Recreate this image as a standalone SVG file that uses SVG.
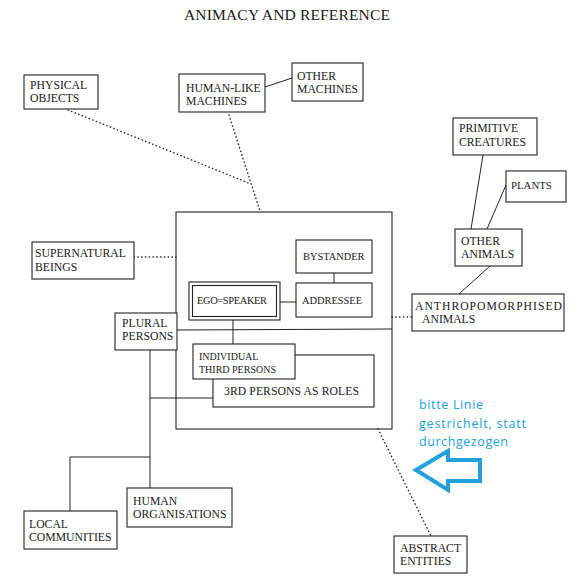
<svg xmlns="http://www.w3.org/2000/svg" width="581" height="577" viewBox="0 0 581 577">
<style>
.box{fill:#fff;stroke:#222;stroke-width:1.1}
.t{font-family:"Liberation Serif","Times New Roman",serif;font-size:11.7px;fill:#1a1a1a}
.s{font-size:10.4px}
.ln{stroke:#222;stroke-width:1;fill:none}
.dot{stroke:#222;stroke-width:1.4;fill:none;stroke-dasharray:0.4 3.4;stroke-linecap:round}
.note{font-family:"Open Sans","Noto Sans",sans-serif;font-size:12.5px;fill:#22a0dc}
</style>
<rect width="581" height="577" fill="#fff"/>
<text x="184" y="20" class="t" style="font-size:15.6px" textLength="206">ANIMACY AND REFERENCE</text>

<g id="container">
<rect x="176" y="212" width="216" height="217" class="box"/>
<line x1="176" y1="330" x2="392" y2="329" class="ln"/>
</g>

<g id="connectors">
<line x1="68" y1="110" x2="251" y2="184" class="dot"/>
<line x1="229" y1="115" x2="260" y2="211" class="dot"/>
<line x1="265" y1="87" x2="292" y2="78" class="ln"/>
<line x1="134" y1="257" x2="176" y2="257" class="dot"/>
<line x1="392" y1="317" x2="412" y2="317" class="dot"/>
<line x1="483" y1="155" x2="471" y2="229" class="ln"/>
<line x1="506" y1="185" x2="487" y2="229" class="ln"/>
<line x1="490" y1="266" x2="459" y2="294" class="ln"/>
<line x1="334" y1="273" x2="334" y2="283" class="ln"/>
<line x1="280" y1="302" x2="296" y2="302" class="ln"/>
<line x1="233" y1="320" x2="233" y2="344" class="ln"/>
<line x1="150" y1="350" x2="150" y2="488" class="ln"/>
<line x1="150" y1="398" x2="213" y2="398" class="ln"/>
<polyline points="150,457 70,457 70,511" class="ln"/>
<line x1="378" y1="429" x2="431" y2="536" class="dot"/>
</g>

<g id="physical-objects">
<rect x="24" y="75" width="74" height="34" class="box"/>
<text x="30" y="89" class="t">PHYSICAL</text>
<text x="30" y="102" class="t">OBJECTS</text>
</g>
<g id="human-like-machines">
<rect x="179" y="74" width="86" height="38" class="box"/>
<text x="186" y="92" class="t">HUMAN-LIKE</text>
<text x="186" y="105" class="t">MACHINES</text>
</g>
<g id="other-machines">
<rect x="292" y="63" width="71" height="38" class="box"/>
<text x="297" y="80" class="t">OTHER</text>
<text x="297" y="93" class="t">MACHINES</text>
</g>
<g id="primitive-creatures">
<rect x="453" y="118" width="84" height="37" class="box"/>
<text x="459" y="132" class="t">PRIMITIVE</text>
<text x="459" y="146" class="t">CREATURES</text>
</g>
<g id="plants">
<rect x="506" y="171" width="60" height="31" class="box"/>
<text x="511" y="189" class="t" style="font-size:10.8px">PLANTS</text>
</g>
<g id="other-animals">
<rect x="455" y="229" width="67" height="37" class="box"/>
<text x="461" y="245" class="t">OTHER</text>
<text x="461" y="258" class="t">ANIMALS</text>
</g>
<g id="anthropomorphised-animals">
<rect x="412" y="294" width="152" height="37" class="box"/>
<text x="415" y="310" class="t" textLength="147">ANTHROPOMORPHISED</text>
<text x="422" y="323" class="t">ANIMALS</text>
</g>
<g id="supernatural-beings">
<rect x="32" y="242" width="102" height="37" class="box"/>
<text x="35" y="257" class="t">SUPERNATURAL</text>
<text x="35" y="271" class="t">BEINGS</text>
</g>
<g id="bystander">
<rect x="296" y="240" width="76" height="33" class="box"/>
<text x="303" y="260" class="t s">BYSTANDER</text>
</g>
<g id="addressee">
<rect x="296" y="283" width="76" height="34" class="box"/>
<text x="302" y="304" class="t s">ADDRESSEE</text>
</g>
<g id="ego-speaker">
<rect x="189" y="282" width="91" height="38" class="box"/>
<rect x="192.5" y="285.5" width="84" height="31" class="box"/>
<text x="197" y="304" class="t s" textLength="70">EGO=SPEAKER</text>
</g>
<g id="plural-persons">
<rect x="115" y="313" width="62" height="37" class="box"/>
<text x="122" y="327" class="t">PLURAL</text>
<text x="122" y="340" class="t">PERSONS</text>
</g>
<g id="3rd-persons-as-roles">
<rect x="213" y="355" width="161" height="52" class="box"/>
<text x="224" y="395" class="t" textLength="135">3RD PERSONS AS ROLES</text>
</g>
<g id="individual-third-persons">
<rect x="193" y="344" width="102" height="35" class="box"/>
<text x="199" y="360" class="t" style="font-size:10px">INDIVIDUAL</text>
<text x="199" y="373" class="t" style="font-size:10px">THIRD PERSONS</text>
</g>
<g id="human-organisations">
<rect x="127" y="488" width="105" height="39" class="box"/>
<text x="133" y="505" class="t">HUMAN</text>
<text x="133" y="518" class="t">ORGANISATIONS</text>
</g>
<g id="local-communities">
<rect x="24" y="511" width="93" height="38" class="box"/>
<text x="29" y="528" class="t">LOCAL</text>
<text x="29" y="541" class="t">COMMUNITIES</text>
</g>
<g id="abstract-entities">
<rect x="394" y="536" width="73" height="37" class="box"/>
<text x="400" y="552" class="t">ABSTRACT</text>
<text x="400" y="565" class="t">ENTITIES</text>
</g>

<g id="annotation">
<text x="419" y="409" class="note" textLength="64">bitte Linie</text>
<text x="419" y="428" class="note" textLength="107">gestrichelt, statt</text>
<text x="419" y="446" class="note" textLength="89">durchgezogen</text>
<polygon points="416,470 448,451 448,460 480,460 480,481 448,481 448,490" fill="none" stroke="#22a0dc" stroke-width="4" stroke-linejoin="miter"/>
</g>
</svg>
